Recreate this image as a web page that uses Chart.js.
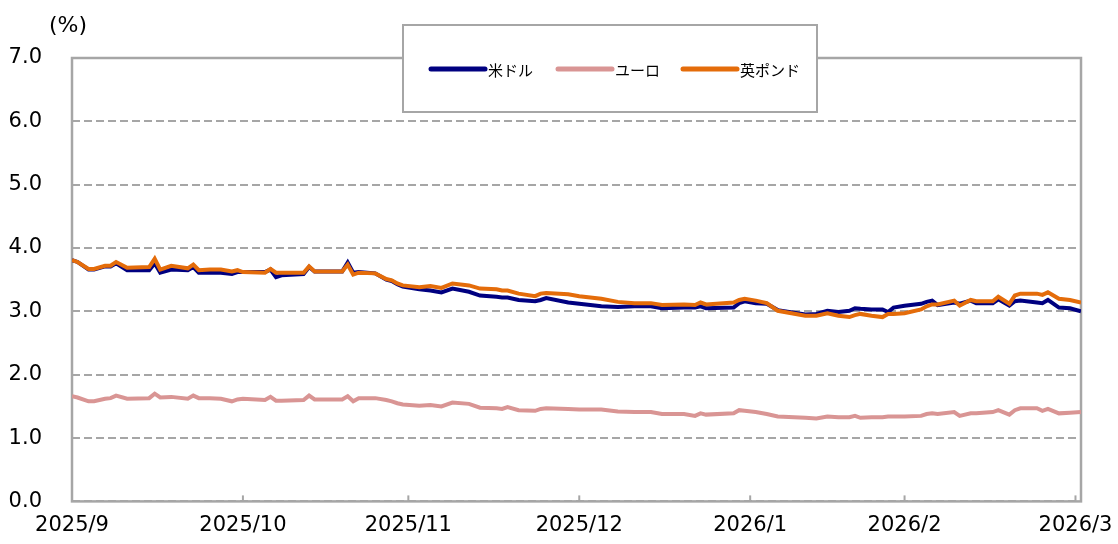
<!DOCTYPE html>
<html>
<head>
<meta charset="utf-8">
<script src="https://cdn.jsdelivr.net/npm/chart.js@4.4.1/dist/chart.umd.min.js"></script>
<style>
  html, body { margin: 0; padding: 0; background: #fff; }
  #wrap { position: relative; width: 1118px; height: 544px; }
</style>
</head>
<body>
<div id="wrap"><canvas id="grafico"></canvas></div>
<script>
// Datos (días desde el inicio del eje)
const dias = [0,1,3,4,6,7,8,10,14,15,16,18,21,22,23,25,27,29,30,31,35,36,37,38,42,43,44,49,50,51,52,55,57,58,59,60,63,65,67,69,72,74,77,78,79,81,84,85,86,90,92,96,99,102,105,107,111,113,114,115,120,121,122,124,126,128,133,135,137,139,141,142,143,145,147,148,149,151,154,155,156,157,160,161,163,164,167,168,170,171,172,175,176,177,179,181,183];

const usd = [3.81,3.78,3.66,3.66,3.71,3.71,3.76,3.65,3.65,3.76,
  3.61,3.66,3.65,3.70,3.61,3.61,3.61,3.59,3.62,3.62,
  3.62,3.66,3.54,3.57,3.59,3.70,3.63,3.63,3.77,3.61,
  3.62,3.60,3.50,3.48,3.43,3.39,3.35,3.33,3.30,3.36,
  3.31,3.25,3.23,3.22,3.22,3.18,3.16,3.18,3.21,3.14,
  3.12,3.08,3.07,3.08,3.08,3.05,3.06,3.06,3.08,3.05,
  3.06,3.13,3.16,3.13,3.12,3.02,2.95,2.96,3.01,2.99,
  3.01,3.05,3.04,3.03,3.03,2.99,3.06,3.09,3.12,3.15,
  3.17,3.10,3.14,3.12,3.17,3.13,3.13,3.19,3.09,3.16,
  3.17,3.14,3.13,3.18,3.06,3.05,3.00];

const eur = [1.66,1.64,1.58,1.58,1.62,1.63,1.67,1.62,1.63,1.70,
  1.64,1.65,1.62,1.67,1.63,1.63,1.62,1.58,1.61,1.62,
  1.60,1.65,1.59,1.59,1.60,1.67,1.61,1.61,1.66,1.58,
  1.63,1.63,1.60,1.58,1.55,1.53,1.51,1.52,1.50,1.56,
  1.54,1.48,1.47,1.46,1.49,1.44,1.43,1.46,1.47,1.46,
  1.45,1.45,1.42,1.41,1.41,1.38,1.38,1.35,1.39,1.37,
  1.39,1.44,1.43,1.41,1.38,1.34,1.32,1.31,1.34,1.33,
  1.33,1.35,1.32,1.33,1.33,1.34,1.34,1.34,1.35,1.38,
  1.39,1.38,1.41,1.35,1.39,1.39,1.41,1.44,1.37,1.44,
  1.47,1.47,1.43,1.46,1.39,1.40,1.41];

const gbp = [3.81,3.78,3.67,3.67,3.72,3.72,3.78,3.69,3.70,3.83,
  3.66,3.72,3.68,3.74,3.65,3.66,3.66,3.63,3.65,3.62,
  3.61,3.67,3.61,3.61,3.61,3.71,3.63,3.63,3.74,3.58,
  3.61,3.60,3.51,3.49,3.44,3.41,3.38,3.40,3.37,3.44,
  3.41,3.36,3.35,3.33,3.33,3.28,3.24,3.28,3.29,3.27,
  3.24,3.20,3.15,3.13,3.13,3.10,3.11,3.10,3.14,3.11,
  3.14,3.18,3.20,3.17,3.13,3.01,2.93,2.93,2.97,2.93,
  2.91,2.94,2.96,2.93,2.91,2.96,2.96,2.97,3.03,3.08,
  3.11,3.11,3.17,3.09,3.18,3.16,3.16,3.23,3.12,3.25,
  3.28,3.28,3.26,3.30,3.20,3.18,3.14];

const series = ['米ドル', 'ユーロ', '英ポンド'];
const colores = ['#000080', '#d99594', '#e46c0a'];
const mesesDias = [0, 31, 61, 92, 123, 151, 182];
const mesesEtiquetas = ['2025/9', '2025/10', '2025/11', '2025/12', '2026/1', '2026/2', '2026/3'];

const gris = '#a6a6a6';
const fuente = 'DejaVu Sans';

// Marco del área, marcas del eje x y "(%)"
const marco = {
  id: 'marco',
  beforeDatasetsDraw(chart) {
    const { ctx, chartArea: a, scales } = chart;
    ctx.save();
    ctx.strokeStyle = gris;
    ctx.lineWidth = 2.5;
    ctx.strokeRect(a.left, a.top, a.right - a.left, a.bottom - a.top);
    ctx.lineWidth = 2;
    mesesDias.forEach(d => {
      const x = scales.x.getPixelForValue(d);
      ctx.beginPath();
      ctx.moveTo(x, a.bottom);
      ctx.lineTo(x, a.bottom - 6);
      ctx.stroke();
    });
    ctx.fillStyle = '#000';
    ctx.font = '22px "' + fuente + '"';
    ctx.textBaseline = 'middle';
    ctx.fillText('(%)', 49, 26);
    ctx.restore();
  }
};

// Leyenda dentro de una caja
const leyenda = {
  id: 'leyenda',
  afterDraw(chart) {
    const ctx = chart.ctx;
    ctx.save();
    ctx.fillStyle = '#fff';
    ctx.strokeStyle = gris;
    ctx.lineWidth = 2;
    ctx.fillRect(403, 25, 414, 87);
    ctx.strokeRect(403, 25, 414, 87);
    const inicios = [431, 558, 683];
    chart.data.datasets.forEach((ds, i) => {
      const x0 = inicios[i];
      ctx.beginPath();
      ctx.lineCap = 'round';
      ctx.lineWidth = 5;
      ctx.strokeStyle = ds.borderColor;
      ctx.moveTo(x0, 69);
      ctx.lineTo(x0 + 54, 69);
      ctx.stroke();
      ctx.fillStyle = '#000';
      ctx.font = '15px "Noto Sans CJK JP"';
      ctx.textBaseline = 'middle';
      ctx.fillText(ds.label, x0 + 57, 70);
    });
    ctx.restore();
  }
};

const valores = [usd, eur, gbp];

new Chart(document.getElementById('grafico'), {
  type: 'line',
  data: {
    datasets: series.map((nombre, i) => ({
      label: nombre,
      data: valores[i].map((v, j) => ({ x: dias[j], y: v })),
      borderColor: colores[i],
      backgroundColor: colores[i],
      borderWidth: 4,
      pointRadius: 0,
      tension: 0,
      order: 3 - i
    }))
  },
  options: {
    responsive: true,
    maintainAspectRatio: false,
    animation: false,
    layout: { padding: { top: 58, right: 37, bottom: 0, left: 0 } },
    plugins: {
      legend: { display: false },
      tooltip: { enabled: false }
    },
    scales: {
      x: {
        type: 'linear',
        min: 0,
        max: 183,
        afterBuildTicks(scale) {
          scale.ticks = mesesDias.map(v => ({ value: v }));
        },
        ticks: {
          autoSkip: false,
          maxRotation: 0,
          padding: 12,
          color: '#000',
          font: { family: fuente, size: 21 },
          callback: (v, i) => mesesEtiquetas[i]
        },
        grid: { display: false, drawTicks: false },
        border: { display: false },
        afterFit(scale) {
          scale.height = 41;
          scale.paddingLeft = 0;
          scale.paddingRight = 0;
        }
      },
      y: {
        min: 0,
        max: 7,
        ticks: {
          stepSize: 1,
          padding: 30,
          color: '#000',
          font: { family: fuente, size: 21 },
          callback: v => v.toFixed(1)
        },
        grid: { color: gris, lineWidth: 2, drawTicks: false },
        border: { display: false, dash: [8, 4] },
        afterFit(scale) { scale.width = 72; }
      }
    }
  },
  plugins: [marco, leyenda]
});
</script>
</body>
</html>
